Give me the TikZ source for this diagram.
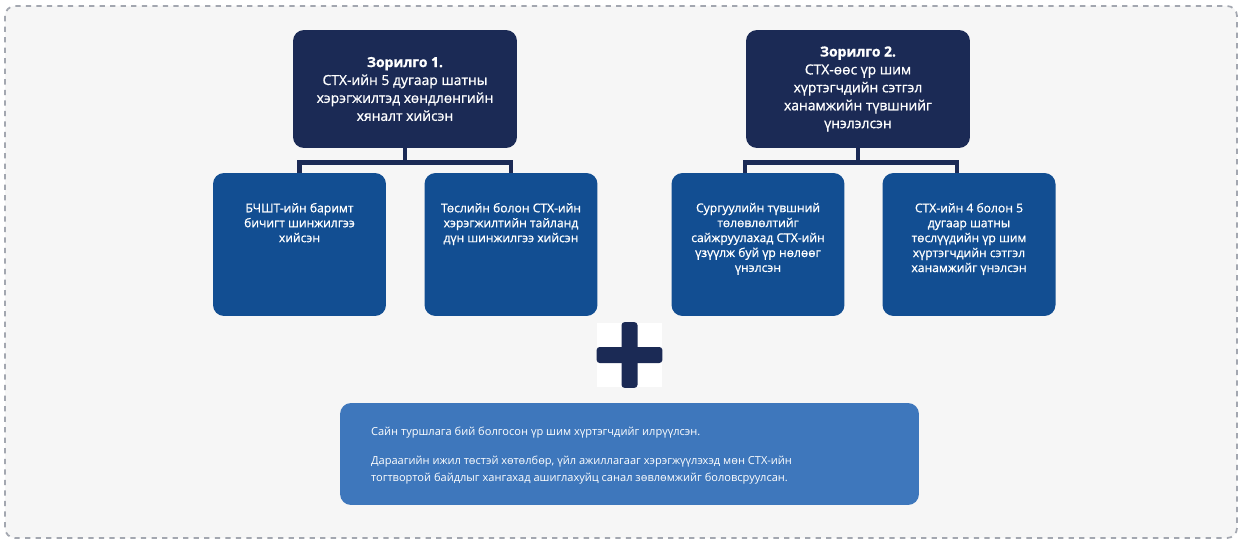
\documentclass[tikz,border=0pt]{standalone}
\usepackage{fontspec}
\setmainfont{Open Sans}
\newfontfamily\semifont[FakeBold=0.9]{Open Sans}
\usetikzlibrary{calc, positioning}

\definecolor{navy}{HTML}{1B2A55}
\definecolor{taskblue}{HTML}{124E92}
\definecolor{resblue}{HTML}{3E77BC}
\definecolor{panel}{HTML}{F6F6F6}
\definecolor{frame}{HTML}{A3A7B0}

\begin{document}
\begin{tikzpicture}[
			x=0.02cm, y=-0.02cm,
			goal/.style={rounded corners=2.2mm, fill=navy, minimum width=4.48cm, minimum height=2.36cm, inner sep=0pt},
			task/.style={rounded corners=2.2mm, fill=taskblue, minimum width=3.46cm, minimum height=2.86cm, inner sep=0pt},
			result/.style={rounded corners=2.2mm, fill=resblue, minimum width=11.58cm, minimum height=2.04cm, inner sep=0pt},
			goaltext/.style={text=white, align=center, font=\semifont\fontsize{7.9}{10.2}\selectfont, inner sep=0pt},
			tasktext/.style={text=white, align=center, font=\semifont\fontsize{6.9}{8.5}\selectfont, inner sep=0pt},
			restext/.style={text=white, align=left, font=\fontsize{6.3}{9.6}\selectfont, inner sep=0pt},
			link/.style={draw=navy, line width=0.9mm},
			]
			
			% fon ba tasarhai hurээ
			\useasboundingbox (0,0) rectangle (1239,540);
			\fill[white] (0,0) rectangle (1239,540);
			\draw[frame, dashed, fill=panel, rounded corners=2mm, line width=0.35mm] (5,6) rectangle (1237,538);
			
			% zorilgo
			\node[goal] (Goal1) at (405,89) {};
			\node[goaltext] (Goal1Text) at (Goal1) {\textbf{Зорилго 1.}\\СТХ-ийн 5 дугаар шатны\\хэрэгжилтэд хөндлөнгийн\\хяналт хийсэн};
			\node[goal] (Goal2) at (858,89) {};
			\node[goaltext] (Goal2Text) at (Goal2) {\textbf{Зорилго 2.}\\СТХ-өөс үр шим\\хүртэгчдийн сэтгэл\\ханамжийн түвшнийг\\үнэлэлсэн};
			
			% ajluud
			\node[task] (Task1) at (299.5,244.5) {};
			\node[task] (Task2) at (511,244.5) {};
			\node[task] (Task3) at (758,244.5) {};
			\node[task] (Task4) at (969,244.5) {};
			\node[tasktext, below=0.6cm of Task1.north] (Task1Text) {БЧШТ-ийн баримт\\бичигт шинжилгээ\\хийсэн};
			\node[tasktext, below=0.6cm of Task2.north] (Task2Text) {Төслийн болон СТХ-ийн\\хэрэгжилтийн тайланд\\дүн шинжилгээ хийсэн};
			\node[tasktext, below=0.6cm of Task3.north] (Task3Text) {Сургуулийн түвшний\\төлөвлөлтийг\\сайжруулахад СТХ-ийн\\үзүүлж буй үр нөлөөг\\үнэлсэн};
			\node[tasktext, below=0.6cm of Task4.north] (Task4Text) {СТХ-ийн 4 болон 5\\дугаар шатны\\төслүүдийн үр шим\\хүртэгчдийн сэтгэл\\ханамжийг үнэлсэн};
			
			% holboos
			\draw[link] (Goal1.south) -- ++(0,14) coordinate (Split1) -| (Task1.north);
			\draw[link] (Split1) -| (Task2.north);
			\draw[link] (Goal2.south) -- ++(0,14) coordinate (Split2) -| ($(Task3.north)+(-13,0)$);
			\draw[link] (Split2) -| ($(Task4.north)+(-12,0)$);
			
			% nemeh temdeg
			\node[fill=white, minimum size=1.3cm, inner sep=0pt] (Plus) at (629.5,355) {};
			\fill[navy, rounded corners=0.6mm] ($(Plus.north)+(-8,0)$) rectangle ($(Plus.south)+(8,0)$);
			\fill[navy, rounded corners=0.6mm] ($(Plus.west)+(0,-8)$) rectangle ($(Plus.east)+(0,8)$);
			
			% ur dun
			\node[result] (Result) at (629.5,454) {};
			\node[restext, below right=0.48cm and 0.62cm of Result.north west] (ResultText) {Сайн туршлага бий болгосон үр шим хүртэгчдийг илрүүлсэн.\\[0.24cm]Дараагийн ижил төстэй хөтөлбөр, үйл ажиллагааг хэрэгжүүлэхэд мөн СТХ-ийн\\тогтвортой байдлыг хангахад ашиглахуйц санал зөвлөмжийг боловсруулсан.};
			
		\end{tikzpicture}
\end{document}
